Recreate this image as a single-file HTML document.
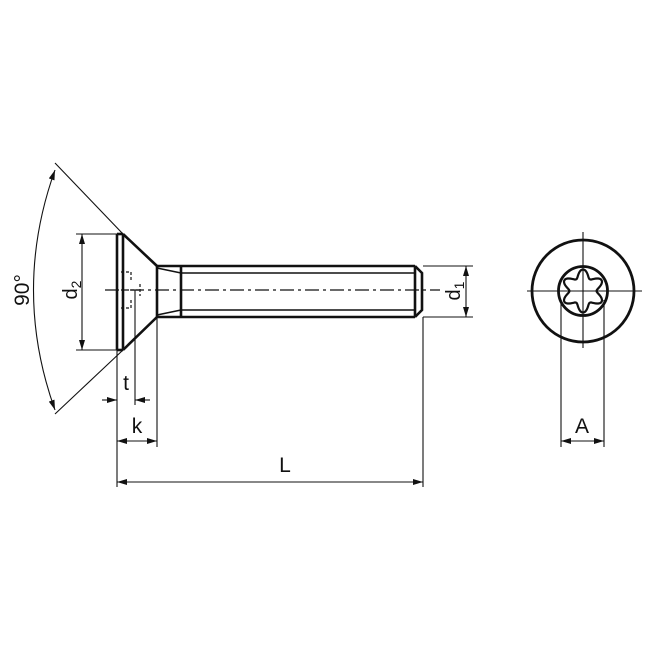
<!DOCTYPE html>
<html><head><style>body{margin:0;background:#fff}svg{display:block}text{font-family:"Liberation Sans",sans-serif;fill:#111}</style></head>
<body>
<svg width="648" height="648" viewBox="0 0 648 648" xmlns="http://www.w3.org/2000/svg">
<defs>
<marker id="a" viewBox="0 0 10 6" refX="10" refY="3" markerWidth="11" markerHeight="6" orient="auto-start-reverse" markerUnits="userSpaceOnUse"><path d="M0,0L10,3L0,6z" fill="#111"/></marker>
</defs>
<g stroke="#111" fill="none">
<g stroke-width="2.6">
<line x1="117" y1="234" x2="117" y2="350"/>
<line x1="123" y1="234" x2="123" y2="350"/>
<line x1="117" y1="234" x2="123" y2="234"/><line x1="117" y1="350" x2="123" y2="350"/>
<line x1="123" y1="234" x2="157" y2="266"/>
<line x1="123" y1="350" x2="157" y2="317"/>
<line x1="157" y1="266" x2="157" y2="317"/>
<line x1="157" y1="266" x2="415" y2="266"/>
<line x1="157" y1="317" x2="415" y2="317"/>
<line x1="181" y1="266" x2="181" y2="317"/>
<line x1="415" y1="266" x2="415" y2="317"/>
<path d="M415,266 L422,273 L422,310 L415,317"/>
</g>
<g stroke-width="1.6">
<line x1="157" y1="268" x2="181" y2="273"/>
<line x1="157" y1="315" x2="181" y2="310"/>
<line x1="181" y1="273" x2="415" y2="273"/>
<line x1="181" y1="310" x2="415" y2="310"/>
</g>
<g stroke-width="1.2" stroke-dasharray="3,2">
<path d="M121,272 L131,272 M121,290 L140,290 M121,308 L131,308 M131,272v8 M131,300v8 M140,284v12"/>
</g>
<line x1="105" y1="290" x2="440" y2="290" stroke-width="1.2" stroke-dasharray="14,4,3,4"/>
<g stroke-width="1.1">
<line x1="55" y1="163" x2="123" y2="234"/>
<line x1="123" y1="350" x2="55" y2="414"/>
<path d="M55,170 Q12,290 55,410" marker-start="url(#a)" marker-end="url(#a)"/>
<line x1="76" y1="234" x2="117" y2="234"/>
<line x1="76" y1="350" x2="117" y2="350"/>
<line x1="82" y1="234" x2="82" y2="350" marker-start="url(#a)" marker-end="url(#a)"/>
<line x1="117" y1="350" x2="117" y2="487"/>
<line x1="135" y1="290" x2="135" y2="405"/>
<line x1="157" y1="317" x2="157" y2="447"/>
<line x1="423" y1="317" x2="423" y2="487"/>
<line x1="102" y1="400" x2="117" y2="400" marker-end="url(#a)"/>
<line x1="150" y1="400" x2="135" y2="400" marker-end="url(#a)"/>
<line x1="117" y1="441" x2="157" y2="441" marker-start="url(#a)" marker-end="url(#a)"/>
<line x1="117" y1="482" x2="423" y2="482" marker-start="url(#a)" marker-end="url(#a)"/>
<line x1="423" y1="266" x2="473" y2="266"/>
<line x1="423" y1="317" x2="473" y2="317"/>
<line x1="466" y1="266" x2="466" y2="317" marker-start="url(#a)" marker-end="url(#a)"/>
<line x1="527" y1="291" x2="642" y2="291"/>
<line x1="583" y1="232" x2="583" y2="348"/>
<line x1="561" y1="300" x2="561" y2="447"/>
<line x1="604" y1="300" x2="604" y2="447"/>
<line x1="561" y1="441" x2="604" y2="441" marker-start="url(#a)" marker-end="url(#a)"/>
</g>
<circle cx="583" cy="291" r="51" stroke-width="2.8"/>
<circle cx="583" cy="291" r="24.5" stroke-width="2.8"/>
<path id="torx" stroke-width="2.2"/>
</g>
<text x="22" y="290" font-size="21" text-anchor="middle" transform="rotate(-90 22 290)" dy="7">90°</text>
<text x="70" y="290" font-size="20" transform="rotate(-90 70 290)" text-anchor="middle" dy="7">d<tspan font-size="14" dy="4">2</tspan></text>
<text x="453" y="291" font-size="20" transform="rotate(-90 453 291)" text-anchor="middle" dy="7">d<tspan font-size="14" dy="4">1</tspan></text>
<text x="126" y="390" font-size="21" text-anchor="middle">t</text>
<text x="137" y="433" font-size="21" text-anchor="middle">k</text>
<text x="285" y="472" font-size="21" text-anchor="middle">L</text>
<text x="582" y="433" font-size="21" text-anchor="middle">A</text>
<script>
var d="";for(var i=0;i<=360;i+=3){var t=i*Math.PI/180;var r=17.5+4*Math.cos(6*(t+Math.PI/2));var x=583+r*Math.cos(t),y=291+r*Math.sin(t);d+=(i?"L":"M")+x.toFixed(1)+","+y.toFixed(1);}document.getElementById("torx").setAttribute("d",d+"Z");
</script>
</svg>
</body></html>
